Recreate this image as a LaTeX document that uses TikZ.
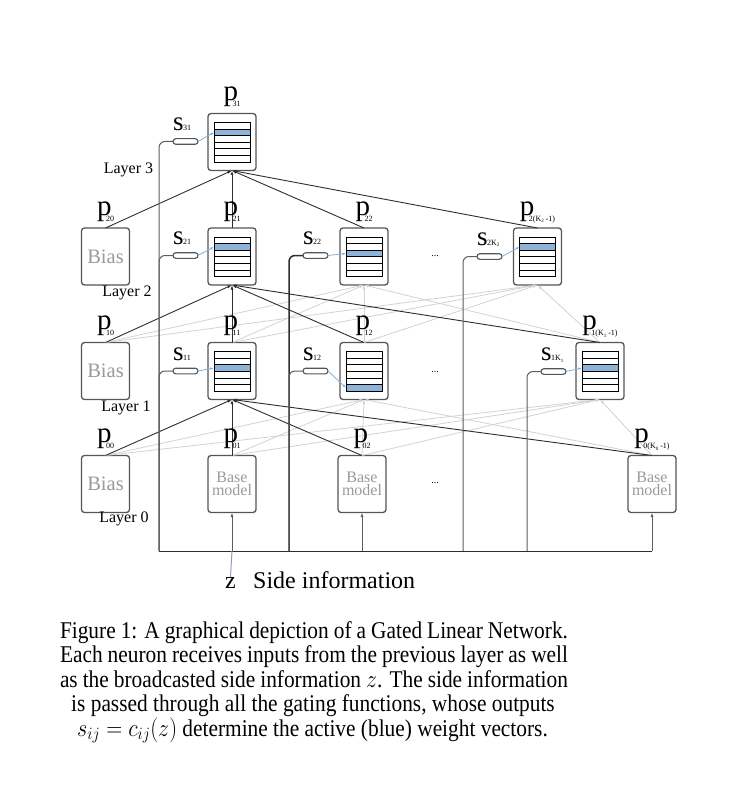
\documentclass[tikz,border=0pt]{standalone}
\usepackage{graphicx}
\usepackage{fontspec}
\setmainfont{Liberation Serif}
\newfontfamily\capfnt[FakeStretch=0.89]{Liberation Serif}
\usetikzlibrary{arrows.meta,calc}

\definecolor{boxc}{HTML}{555555}
\definecolor{darkl}{HTML}{2E2E2E}
\definecolor{lightl}{HTML}{D2D2D2}
\definecolor{blueW}{HTML}{8DB3D9}
\definecolor{bluA}{HTML}{86AFD8}
\definecolor{txtg}{HTML}{9A9A9A}
\definecolor{gatec}{HTML}{5E5E5E}
\definecolor{zcol}{HTML}{8E9CC0}

\newcommand\pfont{\fontsize{29}{29}\selectfont}
\newcommand\subfnt{\fontsize{8}{8}\selectfont}
\newcommand\plab[1]{{\pfont p}\kern-5.5pt\raisebox{-6pt}{\subfnt #1}}
\newcommand\slab[1]{{\fontsize{27}{27}\selectfont s}\kern-0.5pt{\subfnt #1}}
\newcommand\kk[1]{K\raisebox{-1.5pt}{\fontsize{5}{5}\selectfont #1}}
\newcommand\narrowmath[1]{\scalebox{0.89}[1]{$#1$}}

\tikzset{
 nbox/.style={draw=boxc, line width=1.3pt, rounded corners=3pt, minimum width=48pt, minimum height=57pt, fill=white, inner sep=0pt, outer sep=0pt},
 gbox/.style={draw=boxc, line width=1.1pt, rounded corners=2.8pt, minimum width=25pt, minimum height=5.6pt, fill=white, inner sep=0pt, outer sep=0pt},
 rowline/.style={line width=0.8pt, draw=black},
 dk/.style={draw=darkl, line width=0.9pt, -{Latex[length=4.5pt,width=3pt]}},
 lt/.style={draw=lightl, line width=0.8pt, -{Latex[length=4.5pt,width=3pt]}},
 gateln/.style={draw=gatec, line width=1pt, rounded corners=6pt},
 gatedk/.style={draw=darkl, line width=1.5pt, rounded corners=6pt},
 botln/.style={draw=darkl, line width=1pt},
 uparr/.style={draw=gatec, line width=1pt, -{Latex[length=4.5pt,width=3pt]}},
 zln/.style={draw=zcol, line width=1pt},
 blarr/.style={draw=bluA, line width=0.8pt, -{Latex[length=3.5pt,width=2.5pt]}},
 plabel/.style={anchor=base, inner sep=0pt},
 slabel/.style={anchor=base west, inner sep=0pt},
 biasbox/.style={nbox, text=txtg, font=\fontsize{20.5}{20.5}\selectfont},
 basebox/.style={nbox, text=txtg, align=center, font=\fontsize{16}{12.5}\selectfont},
 laytxt/.style={inner sep=0pt, font=\fontsize{16}{16}\selectfont},
 dots/.style={inner sep=0pt, font=\fontsize{10}{10}\selectfont},
 capfont/.style={anchor=base, inner sep=0pt, font=\capfnt\fontsize{24}{24}\selectfont},
 sidefont/.style={inner sep=0pt, font=\fontsize{24}{24}\selectfont},
}

% name, x, y, blue row
\newcommand\neuron[4]{%
  \node[nbox] (#1) at (#2,#3) {};
  \fill[blueW] (#2-18,#3-19.5+#4*6.6-6.6) rectangle (#2+18,#3-19.5+#4*6.6);
  \foreach \k in {1,...,5} \draw[rowline] (#2-18,#3-19.5+\k*6.6) -- (#2+18,#3-19.5+\k*6.6);
  \draw[rowline] (#2-18,#3-19.5) rectangle (#2+18,#3+20.1);
  \coordinate (#1w) at (#2-18,#3-19.5+#4*6.6-3.3);
}

\begin{document}
\begin{tikzpicture}[x=1pt,y=-1pt]
\useasboundingbox (0,0) rectangle (738,794);

% ---- coordinates for bus
\coordinate (c1) at (159,551);
\coordinate (c2) at (289,551);
\coordinate (c3) at (463,551);
\coordinate (c4) at (527,551);
\coordinate (j1) at (232,551);
\coordinate (j2) at (362,551);
\coordinate (cE) at (652,551);

% ---- neurons
\neuron{n31}{232}{142}{2}
\neuron{n21}{232}{256.5}{2}
\neuron{n22}{364}{256.5}{3}
\neuron{n2K}{537.5}{256.5}{2}
\neuron{n11}{232}{371}{3}
\neuron{n12}{364}{371}{6}
\neuron{n1K}{600}{371}{3}

\node[biasbox] (b20) at (105.5,256.5) {Bias};
\node[biasbox] (b10) at (105.5,371) {Bias};
\node[biasbox] (b00) at (105.5,484) {Bias};
\node[basebox] (n01) at (232,484) {Base\\model};
\node[basebox] (n02) at (362,484) {Base\\model};
\node[basebox] (n0K) at (652,484) {Base\\model};

% ---- light connections
\foreach \s in {b10,n11,n12,n1K} {
  \draw[lt] (\s.north) -- (n22.south);
  \draw[lt] (\s.north) -- (n2K.south);
}
\foreach \s in {b00,n01,n02,n0K} {
  \draw[lt] (\s.north) -- (n12.south);
  \draw[lt] (\s.north) -- (n1K.south);
}
% ---- dark connections
\foreach \s in {b20,n21,n22,n2K} \draw[dk] (\s.north) -- (n31.south);
\foreach \s in {b10,n11,n12,n1K} \draw[dk] (\s.north) -- (n21.south);
\foreach \s in {b00,n01,n02,n0K} \draw[dk] (\s.north) -- (n11.south);

% ---- gates
\node[gbox] (g31) at (185.5,141.5) {};
\node[gbox] (g21) at (185.5,255.5) {};
\node[gbox] (g22) at (315.5,255.5) {};
\node[gbox] (g2K) at (489.5,256.5) {};
\node[gbox] (g11) at (185.5,371) {};
\node[gbox] (g12) at (315.5,371) {};
\node[gbox] (g1K) at (553.5,371.5) {};

\draw[gateln] (g31.west) -| (c1);
\draw[gateln] (g21.west) -| (c1);
\draw[gateln] (g11.west) -| (c1);
\draw[gatedk] (g22.west) -| (c2);
\draw[gateln] (g12.west) -| (c2);
\draw[gateln] (g2K.west) -| (c3);
\draw[gateln] (g1K.west) -| (c4);
\draw[botln] (c1) -- (cE);
\draw[uparr] (j1) -- (n01.south);
\draw[uparr] (j2) -- (n02.south);
\draw[uparr] (cE) -- (n0K.south);

\foreach \g/\n in {g31/n31,g21/n21,g22/n22,g2K/n2K,g11/n11,g12/n12,g1K/n1K}
  \draw[blarr] (\g.east) -- (\n w);

% ---- s labels
\node[slabel] (s31) at ($(g31.west)+(0,-11)$) {\slab{31}};
\node[slabel] (s21) at ($(g21.west)+(0,-11)$) {\slab{21}};
\node[slabel] (s22) at ($(g22.west)+(0,-11)$) {\slab{22}};
\node[slabel] (s2K) at ($(g2K.west)+(0,-11)$) {\slab{2\kk{2}}};
\node[slabel] (s11) at ($(g11.west)+(0,-11)$) {\slab{11}};
\node[slabel] (s12) at ($(g12.west)+(0,-11)$) {\slab{12}};
\node[slabel] (s1K) at ($(g1K.west)+(0,-11)$) {\slab{1\kk{1}}};

% ---- p labels
\foreach \n/\t in {n31/31,b20/20,n21/21,n22/22,n2K/{2(\kk{2} -1)},b10/10,n11/11,n12/12,n1K/{1(\kk{1} -1)},b00/00,n01/01,n02/02,n0K/{0(\kk{0} -1)}}
  \node[plabel] (p\n) at ($(\n.north)+(0,-12.7)$) {\plab{\t}};

% ---- layer texts and dots
\node[laytxt] (L3) at (128.5,170) {Layer 3};
\node[laytxt] (L2) at (127,293) {Layer 2};
\node[laytxt] (L1) at (126,408) {Layer 1};
\node[laytxt] (L0) at (124,519) {Layer 0};
\node[dots] (d2) at (435,256) {...};
\node[dots] (d1) at (435,372) {...};
\node[dots] (d0) at (435,483) {...};

% ---- side information
\node[sidefont, anchor=base] (zlab) at (230.5,588) {z};
\node[sidefont, anchor=base west] (side) at (253,588) {Side information};
\draw[zln] (zlab.north) -- (j1);

% ---- caption
\node[capfont] (cap1) at (314,638) {\makebox[508pt][s]{Figure 1: A graphical depiction of a Gated Linear Network.}};
\node[capfont] (cap2) at (314,662.5) {\makebox[508pt][s]{Each neuron receives inputs from the previous layer as well}};
\node[capfont] (cap3) at (314,687) {\makebox[508pt][s]{as the broadcasted side information \narrowmath{z}. The side information}};
\node[capfont] (cap4) at (313,711.5) {is passed through all the gating functions, whose outputs};
\node[capfont] (cap5) at (312.5,736) {\narrowmath{s_{ij} = c_{ij}(z)} determine the active (blue) weight vectors.};
\end{tikzpicture}
\end{document}
